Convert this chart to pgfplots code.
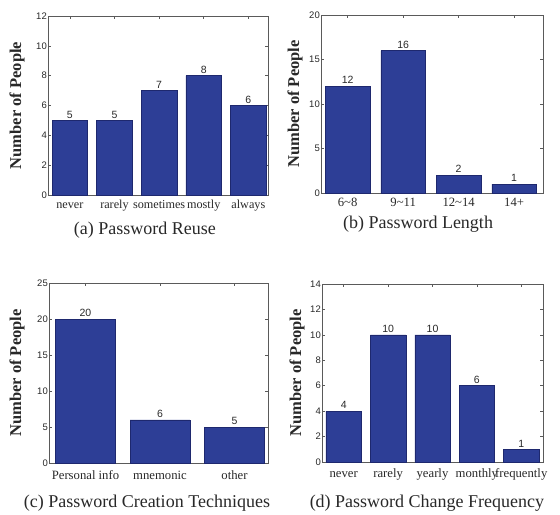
\documentclass[border=0pt]{standalone}
\usepackage{fontspec}
\setmainfont{Liberation Serif}
\newfontfamily\sansf{Liberation Sans}
\usepackage{pgfplots}
\pgfplotsset{compat=1.18}
\definecolor{barblue}{RGB}{45,62,150}
\definecolor{baredge}{RGB}{30,40,110}
\definecolor{axgray}{RGB}{90,90,90}
\definecolor{txt}{RGB}{40,40,40}
\pgfplotsset{
  panel/.style={
    scale only axis,
    anchor=south west,
    ybar, bar width=0.8,
    ymin=0,
    axis line style={axgray, line width=0.6pt},
    every tick/.style={axgray, line width=0.5pt},
    major tick length=3pt,
    tick align=inside,
    tick pos=both,
    /pgf/number format/assume math mode=true,
    yticklabel style={font=\sansf\fontsize{9.5}{10}\selectfont, text=txt, inner sep=1pt},
    xticklabel style={font=\fontsize{12.7}{14}\selectfont, text=txt, inner sep=2pt, text height=10pt, text depth=3pt},
    nodes near coords,
    nodes near coords style={font=\sansf\fontsize{10.5}{11}\selectfont, text=txt, inner sep=2pt},
    ylabel={Number of People},
    ylabel style={font=\bfseries\fontsize{16.5}{18}\selectfont, text=txt, rotate=0, anchor=center},
    xlabel style={font=\fontsize{18}{20}\selectfont, text=txt, anchor=center},
  },
  barstyle/.style={fill=barblue, draw=baredge, line width=0.5pt},
}
\begin{document}
\begin{tikzpicture}
\path (0,0) rectangle (560pt,-513pt);
% (a)
\begin{axis}[panel, at={(48pt,-195pt)}, width=220pt, height=179pt,
  xmin=-0.49, xmax=4.44, ymax=12, ytick={0,2,...,12},
  xtick={0,1,2,3,4}, xticklabels={never,rarely,sometimes,mostly,always},
  xticklabel style={yshift=-1pt, font=\fontsize{12.2}{14}\selectfont},
  ylabel style={at={(axis description cs:-0.141,0.5)}},
  xlabel={(a) Password Reuse},
  xlabel style={at={(axis description cs:0.44,-0.196)}}]
\addplot[barstyle] coordinates {(0,5) (1,5) (2,7) (3,8) (4,6)};
\end{axis}
% (b)
\begin{axis}[panel, at={(321pt,-193pt)}, width=222pt, height=178pt,
  xmin=-0.48, xmax=3.52, ymax=20, ytick={0,5,...,20},
  xtick={0,1,2,3}, xticklabels={6\textasciitilde 8,9\textasciitilde 11,12\textasciitilde 14,14+},
  xticklabel style={yshift=-1pt},
  ylabel style={at={(axis description cs:-0.117,0.5)}},
  xlabel={(b) Password Length},
  xlabel style={at={(axis description cs:0.437,-0.174)}}]
\addplot[barstyle] coordinates {(0,12) (1,16) (2,2) (3,1)};
\end{axis}
% (c)
\begin{axis}[panel, at={(49pt,-463pt)}, width=219pt, height=180pt,
  xmin=-0.49, xmax=2.45, ymax=25, ytick={0,5,...,25},
  xtick={0,1,2}, xticklabels={Personal info,mnemonic,other},
  xticklabel style={yshift=-4pt},
  ylabel style={at={(axis description cs:-0.146,0.5)}},
  xlabel={(c) Password Creation Techniques},
  xlabel style={at={(axis description cs:0.447,-0.222)}}]
\addplot[barstyle] coordinates {(0,20) (1,6) (2,5)};
\end{axis}
% (d)
\begin{axis}[panel, at={(322pt,-462pt)}, width=221pt, height=178pt,
  xmin=-0.49, xmax=4.49, ymax=14, ytick={0,2,...,14},
  xtick={0,1,2,3,4}, xticklabels={never,rarely,yearly,monthly,frequently},
  xticklabel style={yshift=-3pt},
  ylabel style={at={(axis description cs:-0.113,0.5)}},
  xlabel={(d) Password Change Frequency},
  xlabel style={at={(axis description cs:0.475,-0.23)}}]
\addplot[barstyle] coordinates {(0,4) (1,10) (2,10) (3,6) (4,1)};
\end{axis}
\end{tikzpicture}
\end{document}
